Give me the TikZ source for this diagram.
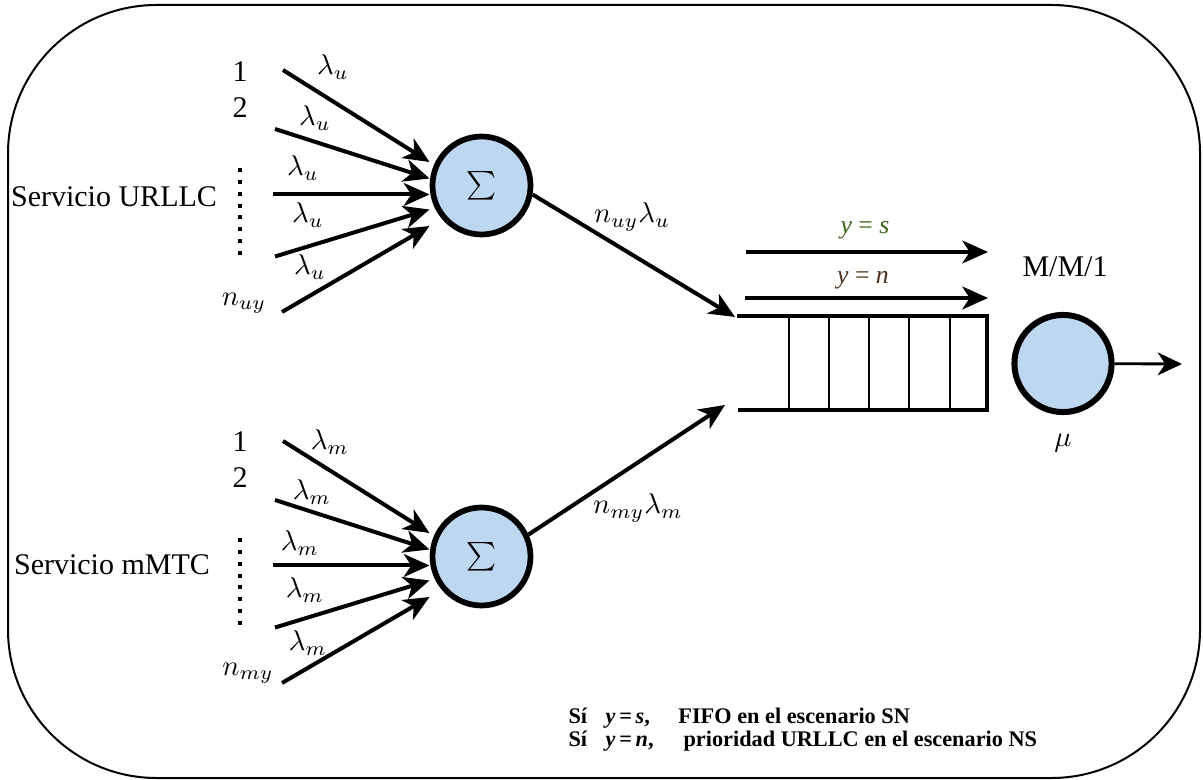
\documentclass[tikz,border=0pt]{standalone}
\usepackage{fontspec}
\setmainfont{Liberation Serif}
\newfontfamily\tnr{Liberation Serif}
\usetikzlibrary{arrows.meta,calc}
\definecolor{sumfill}{RGB}{190,215,240}
\definecolor{labgreen}{RGB}{60,100,25}
\definecolor{labbrown}{RGB}{75,50,30}
\begin{document}
\begin{tikzpicture}[x=0.35pt,y=-0.35pt,
  flow/.style={line width=1.4pt,-{Stealth[length=9pt,width=8pt,inset=2.6pt]}},
  sumnode/.style={circle,draw,line width=2pt,fill=sumfill,minimum size=34.3pt,inner sep=0pt,font=\fontsize{10}{12}\selectfont},
  srvnode/.style={circle,draw,line width=2.1pt,fill=sumfill,minimum size=34pt,inner sep=0pt},
  txt/.style={inner sep=0pt,font=\tnr\fontsize{10.5}{12}\selectfont},
  mth/.style={inner sep=0pt,font=\fontsize{10}{12}\selectfont},
  small/.style={inner sep=0pt,font=\tnr\fontsize{9}{10}\selectfont},
  legend/.style={inner sep=0pt,anchor=west,font=\tnr\fontsize{7.8}{9}\selectfont\bfseries},
  dots/.style={line width=1.4pt,dash pattern=on 1.4pt off 2.75pt},
  queue/.style={line width=1.4pt},
  slot/.style={line width=0.6pt}]
\useasboundingbox (0,0) rectangle (1203,780);

% frame
\draw[line width=0.7pt,rounded corners=52pt] (8,5) rectangle (1200,778);

% aggregation nodes
\node[sumnode] (su) at (481.5,185.5) {$\sum$};
\node[sumnode] (sm) at (481.5,556.5) {$\sum$};

% incoming streams of each service
\foreach \s in {su,sm}{
  \foreach \i/\sx/\sy/\ty in {1/-198.5/-115.5/-23.5, 2/-206.5/-56.5/-7, 3/-208.5/9/9, 4/-206.5/71/24, 5/-199.5/126.5/40.5}{
    \coordinate (\s-in\i) at ($(\s)+(\sx,\sy)$);
    \coordinate (\s-tip\i) at ($(\s)+(-52,\ty)$);
    \draw[flow] (\s-in\i) -- (\s-tip\i);
  }
}

% URLLC labels
\node[txt] (urllc) at (114,197) {Servicio URLLC};
\node[txt] (u1) at (240,72) {1};
\node[txt] (u2) at (240,108) {2};
\draw[dots] (240,168) -- (240,256);
\node[mth] (unu) at (244,303) {$n_{uy}$};
\foreach \n/\x/\y in {a/333/67, b/315/118, c/303/168, d/308/215, e/310/267}
  \node[mth] (lu\n) at (\x,\y) {$\lambda_u$};

% mMTC labels
\node[txt] (mmtc) at (112,565) {Servicio mMTC};
\node[txt] (m1) at (240,442) {1};
\node[txt] (m2) at (240,478) {2};
\draw[dots] (240,538) -- (240,626);
\node[mth] (mnu) at (248,673) {$n_{my}$};
\foreach \n/\x/\y in {a/330/442, b/312/492, c/300/543, d/305/590, e/308/643}
  \node[mth] (lm\n) at (\x,\y) {$\lambda_m$};

% aggregated flows into the queue
\coordinate (qa) at (735,317);
\coordinate (qb) at (725,405);
\draw[flow] (su.-10) -- (qa);
\draw[flow] (sm.25) -- (qb);
\node[mth] (fu) at (632,217) {$n_{uy}\lambda_u$};
\node[mth] (fm) at (638,508) {$n_{my}\lambda_m$};

% queue buffer
\draw[queue] (737,316) -- (987,316) -- (987,410) -- (738,410);
\foreach \x in {789,829,869,909,950}
  \draw[slot] (\x,316) -- (\x,410);

% service order arrows
\coordinate (ys0) at (746,252);
\coordinate (ys1) at (988,252);
\coordinate (yn0) at (745,298);
\coordinate (yn1) at (988,298);
\draw[flow] (ys0) -- (ys1);
\draw[flow] (yn0) -- (yn1);
\node[small,text=labgreen] (ys) at (865,230) {\textit{y} = \textit{s}};
\node[small,text=labbrown] (yn) at (863,280) {\textit{y} = \textit{n}};

% server
\node[srvnode] (srv) at (1063,363.5) {};
\coordinate (out) at (1182,364);
\draw[line width=1pt,-{Stealth[length=8.5pt,width=8pt,inset=2.6pt]}] (srv) -- (out);
\node[txt] (mm1) at (1065,267) {M/M/1};
\node[mth] (mu) at (1063,443) {$\mu$};

% scenario legend
\node[legend] (leg1) at (568,718) {\makebox[12.95pt][l]{Sí}\makebox[25.5pt][l]{\textit{y}\,=\,\textit{s},}FIFO en el escenario SN};
\node[legend] (leg2) at (568,741) {\makebox[12.95pt][l]{Sí}\makebox[27.3pt][l]{\textit{y}\,=\,\textit{n},}prioridad URLLC en el escenario NS};
\end{tikzpicture}
\end{document}
